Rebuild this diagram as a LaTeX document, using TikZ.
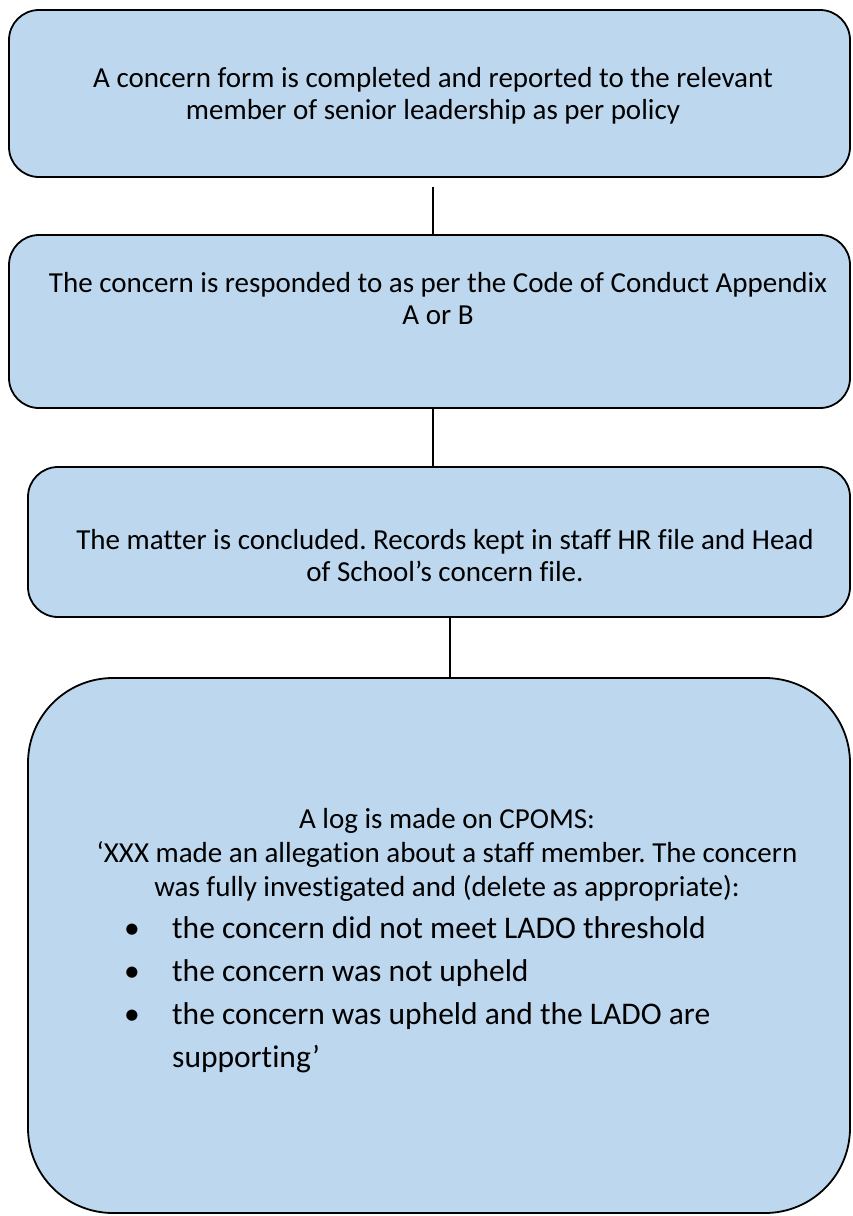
\documentclass[tikz,border=0pt]{standalone}
\usepackage{fontspec}
\setmainfont{Carlito}[Ligatures=NoCommon]
\usepackage{array}
\frenchspacing
\definecolor{boxblue}{HTML}{BDD7EE}
\tikzset{
  flowbox/.style={draw=black, line width=1.8pt, fill=boxblue, rounded corners=30pt, inner sep=0pt},
  boxtext/.style={align=center, font=\fontsize{29}{32}\selectfont, inner sep=0pt},
  link/.style={draw=black, line width=1.3pt}
}
\begin{document}
\begin{tikzpicture}[x=1pt,y=-1pt]
\useasboundingbox (0,0) rectangle (852,1216);
% boxes
\node[flowbox, minimum width=841pt, minimum height=167pt] (b1) at (429.5,93.5) {};
\node[flowbox, minimum width=841pt, minimum height=173pt] (b2) at (429.5,321.5) {};
\node[flowbox, minimum width=822pt, minimum height=150pt] (b3) at (439,542) {};
\node[flowbox, rounded corners=85pt, minimum width=822pt, minimum height=535pt] (b4) at (439,945.5) {};
% texts
\node[boxtext] (t1) at (433,96) {A concern form is completed and reported to the relevant\\member of senior leadership as per policy};
\node[boxtext] (t2) at (438,299) {The concern is responded to as per the Code of Conduct Appendix\\A or B};
\node[boxtext] (t3) at (445,556) {The matter is concluded. Records kept in staff HR file and Head\\of School’s concern file.};
\node[boxtext, font=\fontsize{29}{34}\selectfont] (t4) at (447,855) {A log is made on CPOMS:\\‘XXX made an allegation about a staff member. The concern\\was fully investigated and (delete as appropriate):};
\node[anchor=north west, inner sep=0pt, font=\fontsize{31.5}{43}\selectfont] (t5) at (120,908)
 {\setlength{\tabcolsep}{0pt}\renewcommand{\arraystretch}{1}%
  \begin{tabular}{@{}p{52pt}@{}l@{}}
  \hspace{4pt}\textbullet & the concern did not meet LADO threshold\\
  \hspace{4pt}\textbullet & the concern was not upheld\\
  \hspace{4pt}\textbullet & the concern was upheld and the LADO are\\
   & supporting’
  \end{tabular}};
% connectors
\coordinate (c1) at (433,187);
\coordinate (c2) at (433,408);
\coordinate (c3) at (450,617);
\draw[link] (c1) -- (c1 |- b2.north);
\draw[link] (c2 |- b2.south) -- (c2 |- b3.north);
\draw[link] (c3 |- b3.south) -- (c3 |- b4.north);
\end{tikzpicture}
\end{document}
